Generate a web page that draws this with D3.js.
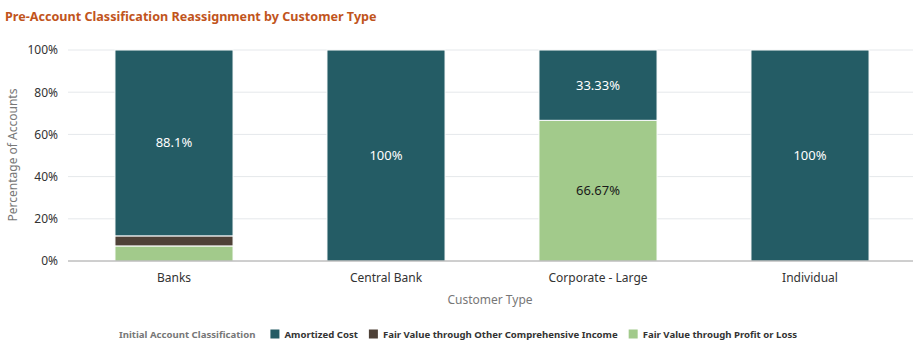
<!DOCTYPE html>
<html><head><meta charset="utf-8">
<script src="https://cdn.jsdelivr.net/npm/d3@7"></script>
<style>body{margin:0;background:#fff}svg{display:block;font-family:"Noto Sans",sans-serif}</style>
</head><body><svg id="c" width="921" height="342"></svg>
<script>
const categories = ["Banks", "Central Bank", "Corporate - Large", "Individual"];
const seriesNames = ["Fair Value through Profit or Loss", "Fair Value through Other Comprehensive Income", "Amortized Cost"];
const fvtpl = [7.14, 0, 66.67, 0];
const fvoci = [4.76, 0, 0, 0];
const amortized = [88.1, 100, 33.33, 100];
const yTicks = [0, 20, 40, 60, 80, 100];
const legendOrder = ["Amortized Cost", "Fair Value through Other Comprehensive Income", "Fair Value through Profit or Loss"];
const colors = {"Amortized Cost": "#245c65", "Fair Value through Other Comprehensive Income": "#4e4137", "Fair Value through Profit or Loss": "#a2ca8b"};
const labelColors = {"Amortized Cost": "#fff", "Fair Value through Other Comprehensive Income": "#fff", "Fair Value through Profit or Loss": "#1a1a1a"};

const svg = d3.select("#c");
const plotL = 68, plotR = 916, plotT = 50, plotB = 261;
const x = d3.scaleBand().domain(categories).range([plotL, plotR]).paddingInner(0.443).paddingOuter(0.2215);
const y = d3.scaleLinear().domain([0, 100]).range([plotB, plotT]);

svg.append("text").attr("x", 5).attr("y", 21).attr("font-size", 12.6).attr("font-weight", "bold")
  .attr("fill", "#c1541c").text("Pre-Account Classification Reassignment by Customer Type");

// gridlines
svg.append("g").selectAll("line").data(yTicks.filter(d => d > 0)).join("line")
  .attr("x1", plotL).attr("x2", 913).attr("y1", d => y(d)).attr("y2", d => y(d))
  .attr("stroke", "#e5e8eb").attr("stroke-width", 1);

const yAxis = svg.append("g").attr("transform", `translate(${plotL},0)`)
  .call(d3.axisLeft(y).tickValues(yTicks).tickFormat(d => d + "%").tickSize(0).tickPadding(10));
yAxis.select(".domain").remove();
yAxis.selectAll("text").attr("font-size", 12).attr("fill", "#333").attr("font-family", "Noto Sans");

const rows = categories.map((c, i) => ({cat: c, "Fair Value through Profit or Loss": fvtpl[i], "Fair Value through Other Comprehensive Income": fvoci[i], "Amortized Cost": amortized[i]}));
const stack = d3.stack().keys(seriesNames)(rows);

const g = svg.append("g");
stack.forEach(s => {
  s.forEach(d => {
    const v = d[1] - d[0];
    if (v <= 0) return;
    g.append("rect").attr("x", x(d.data.cat)).attr("width", x.bandwidth())
      .attr("y", y(d[1])).attr("height", y(d[0]) - y(d[1]))
      .attr("fill", colors[s.key]).attr("stroke", "#fff").attr("stroke-width", 1);
    if (v > 20) {
      g.append("text").attr("x", x(d.data.cat) + x.bandwidth() / 2).attr("y", (y(d[0]) + y(d[1])) / 2)
        .attr("dy", "0.35em").attr("text-anchor", "middle").attr("font-size", 13)
        .attr("fill", labelColors[s.key]).text(v === 100 ? "100%" : (Math.round(v * 100) / 100) + "%");
    }
  });
});

// baseline
svg.append("line").attr("x1", plotL).attr("x2", 913).attr("y1", y(0)).attr("y2", y(0)).attr("stroke", "#9e9e9e");

const xAxis = svg.append("g").attr("transform", `translate(0,${plotB})`)
  .call(d3.axisBottom(x).tickSize(0).tickPadding(12));
xAxis.select(".domain").remove();
xAxis.selectAll("text").attr("font-size", 12).attr("fill", "#333").attr("font-family", "Noto Sans");

svg.append("text").attr("x", 490).attr("y", 304).attr("text-anchor", "middle").attr("font-size", 12)
  .attr("fill", "#777").text("Customer Type");
svg.append("text").attr("transform", "translate(17,155) rotate(-90)").attr("text-anchor", "middle")
  .attr("font-size", 12).attr("fill", "#777").text("Percentage of Accounts");

// legend
const lg = svg.append("g");
let cx = 0;
const ly = 338;
const t0 = lg.append("text").attr("x", cx).attr("y", ly).attr("font-size", 9.6).attr("font-weight", "bold")
  .attr("fill", "#777").text("Initial Account Classification");
cx += t0.node().getComputedTextLength() + 15;
legendOrder.forEach(k => {
  lg.append("rect").attr("x", cx).attr("y", ly - 8.5).attr("width", 9).attr("height", 9).attr("fill", colors[k]);
  cx += 14;
  const t = lg.append("text").attr("x", cx).attr("y", ly).attr("font-size", 9.6).attr("font-weight", "bold")
    .attr("fill", "#333").text(k);
  cx += t.node().getComputedTextLength() + 11;
});
const totalW = cx - 11;
lg.attr("transform", `translate(${458 - totalW / 2},0)`);
</script></body></html>
